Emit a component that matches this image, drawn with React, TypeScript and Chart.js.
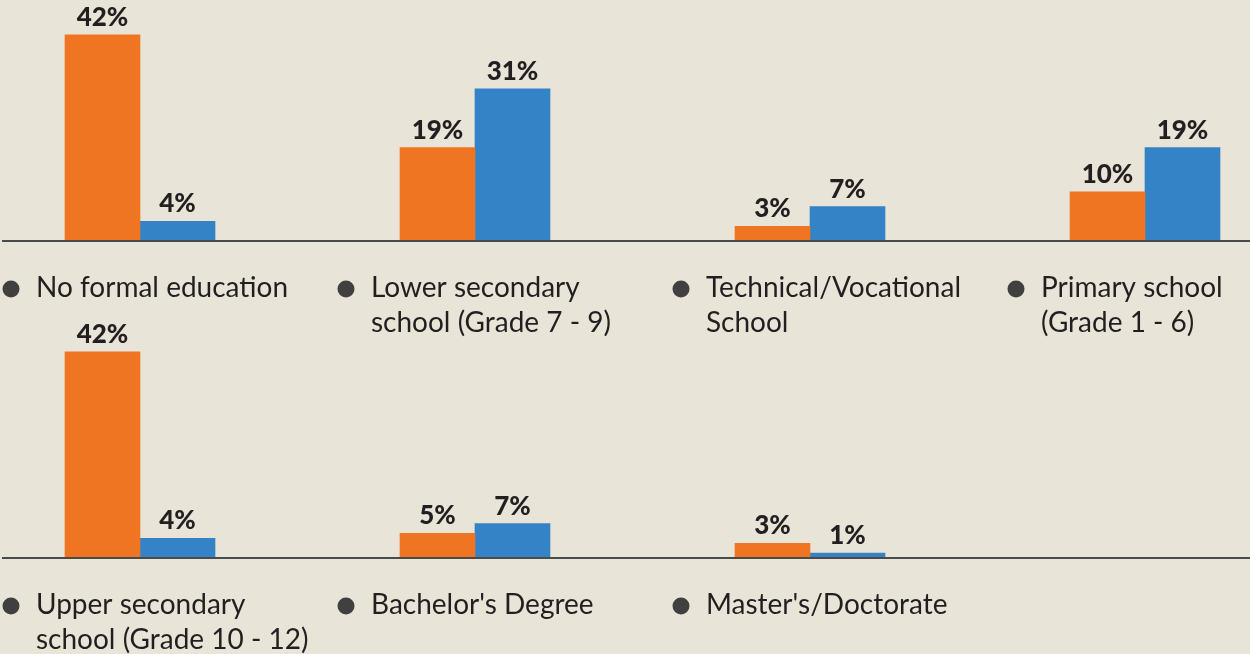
import React, { useEffect, useRef } from 'react';
import { Chart, registerables } from 'chart.js';

Chart.register(...registerables);

// ---- Data ----
const topCategories: string[][] = [
  ['No formal education'],
  ['Lower secondary', 'school (Grade 7 - 9)'],
  ['Technical/Vocational', 'School'],
  ['Primary school', '(Grade 1 - 6)'],
];
const topSeriesA: (number | null)[] = [42, 19, 3, 10];
const topSeriesB: (number | null)[] = [4, 31, 7, 19];

const bottomCategories: string[][] = [
  ['Upper secondary', 'school (Grade 10 - 12)'],
  ["Bachelor's Degree"],
  ["Master's/Doctorate"],
  [''],
];
const bottomSeriesA: (number | null)[] = [42, 5, 3, null];
const bottomSeriesB: (number | null)[] = [4, 7, 1, null];

const seriesNames = ['Series 1', 'Series 2'];

// ---- Styles ----
const ORANGE = '#f07522';
const BLUE = '#3483c6';
const BG = '#e9e4d8';
const TEXT = '#231f20';
const FONT = 'Lato, "Noto Sans", sans-serif';

const decorPlugin = {
  id: 'decor',
  afterDatasetsDraw(chart: any) {
    const ctx = chart.ctx as CanvasRenderingContext2D;
    const y0 = chart.scales.y.getPixelForValue(0);
    const xs = chart.scales.x;
    ctx.save();
    // baseline
    ctx.strokeStyle = '#4a4a4a';
    ctx.lineWidth = 2;
    ctx.beginPath();
    ctx.moveTo(2, y0);
    ctx.lineTo(chart.width, y0);
    ctx.stroke();

    // value labels
    ctx.font = `900 26px ${FONT}`;
    ctx.fillStyle = TEXT;
    ctx.textAlign = 'center';
    ctx.textBaseline = 'alphabetic';
    chart.data.datasets.forEach((ds: any, di: number) => {
      const meta = chart.getDatasetMeta(di);
      meta.data.forEach((el: any, i: number) => {
        const v = ds.data[i];
        if (v == null) return;
        ctx.fillText(`${v}%`, el.x, el.y - 9);
      });
    });

    // category labels with bullets
    (chart.data.labels as any[]).forEach((lab: any, i: number) => {
      const lines: string[] = Array.isArray(lab) ? lab : [lab];
      if (!lines.length || !lines[0]) return;
      const cx = xs.getPixelForValue(i);
      const textX = cx - 104;
      const bulletX = cx - 129;
      const baseY = y0 + 56;
      ctx.fillStyle = '#404040';
      ctx.beginPath();
      ctx.arc(bulletX, baseY - 8, 8.5, 0, Math.PI * 2);
      ctx.fill();
      ctx.fillStyle = TEXT;
      ctx.font = `28px ${FONT}`;
      ctx.textAlign = 'left';
      lines.forEach((ln, li) => ctx.fillText(ln, textX, baseY + li * 35));
    });
    ctx.restore();
  },
};

function RowChart(props: {
  labels: string[][];
  a: (number | null)[];
  b: (number | null)[];
  height: number;
  padBottom: number;
  top: number;
}) {
  const ref = useRef<HTMLCanvasElement | null>(null);
  useEffect(() => {
    if (!ref.current) return;
    const chart = new Chart(ref.current, {
      type: 'bar',
      data: {
        labels: props.labels,
        datasets: [
          { label: seriesNames[0], data: props.a, backgroundColor: ORANGE, borderWidth: 0, clip: false },
          { label: seriesNames[1], data: props.b, backgroundColor: BLUE, borderWidth: 0, clip: false },
        ],
      },
      options: {
        responsive: false,
        animation: false,
        devicePixelRatio: 1,
        layout: { padding: { left: 140, right: 105, top: 20, bottom: props.padBottom } },
        datasets: { bar: { barThickness: 75 } },
        plugins: { legend: { display: false }, tooltip: { enabled: false } },
        scales: {
          x: { type: 'category', display: false, offset: false, grid: { display: false } },
          y: { display: false, min: 0, max: 45 },
        },
      },
      plugins: [decorPlugin],
    } as any);
    return () => chart.destroy();
  }, []);
  return (
    <canvas
      ref={ref}
      width={1250}
      height={props.height}
      style={{ display: 'block', position: 'absolute', left: 0, top: props.top }}
    />
  );
}

export default function App() {
  useEffect(() => {
    document.body.style.margin = '0';
    document.body.style.background = BG;
  }, []);
  return (
    <div style={{ position: 'relative', width: 1250, height: 654, background: BG, overflow: 'hidden' }}>
      <RowChart labels={topCategories} a={topSeriesA} b={topSeriesB} height={345} padBottom={104} top={0} />
      <RowChart labels={bottomCategories} a={bottomSeriesA} b={bottomSeriesB} height={337} padBottom={96} top={317} />
    </div>
  );
}
